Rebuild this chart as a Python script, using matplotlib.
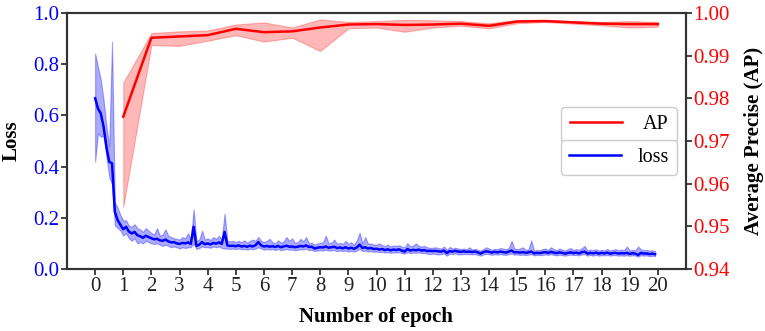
import numpy as np
import matplotlib
matplotlib.use("Agg")
import matplotlib.pyplot as plt
from matplotlib.lines import Line2D

plt.rcParams['font.family'] = ['Liberation Serif', 'DejaVu Serif']

# ---------------- data ----------------
ap_epochs = list(range(1, 21))
ap_mean = [0.9757, 0.9942, 0.9945, 0.9948, 0.9963, 0.9955, 0.9957, 0.9966, 0.9973, 0.9974,
           0.9972, 0.9973, 0.9975, 0.9970, 0.9980, 0.9981, 0.9978, 0.9975, 0.9974, 0.9974]
ap_upper = [0.9837, 0.9953, 0.9957, 0.9959, 0.9973, 0.9978, 0.9966, 0.9985, 0.9979, 0.9981,
            0.9984, 0.9983, 0.9981, 0.9976, 0.9984, 0.9984, 0.9981, 0.9979, 0.9981, 0.9979]
ap_lower = [0.9546, 0.9925, 0.9923, 0.9935, 0.9948, 0.9933, 0.9942, 0.9911, 0.9964, 0.9966,
            0.9956, 0.9966, 0.9970, 0.9964, 0.9976, 0.9979, 0.9975, 0.9971, 0.9966, 0.9968]

loss_step = 0.1
loss_mean = [
    0.667, 0.627, 0.608, 0.556, 0.478, 0.419, 0.413, 0.224, 0.191, 0.172,
    0.155, 0.165, 0.146, 0.139, 0.145, 0.132, 0.128, 0.122, 0.130, 0.125,
    0.120, 0.116, 0.118, 0.112, 0.110, 0.115, 0.108, 0.104, 0.105, 0.100,
    0.098, 0.102, 0.100, 0.104, 0.098, 0.165, 0.090, 0.095, 0.105, 0.097,
    0.100, 0.096, 0.102, 0.099, 0.104, 0.098, 0.145, 0.092, 0.090, 0.091,
    0.089, 0.092, 0.088, 0.090, 0.087, 0.091, 0.088, 0.093, 0.105, 0.092,
    0.088, 0.090, 0.087, 0.089, 0.086, 0.090, 0.085, 0.088, 0.091, 0.087,
    0.088, 0.085, 0.087, 0.090, 0.088, 0.092, 0.086, 0.087, 0.080, 0.083,
    0.085, 0.084, 0.088, 0.083, 0.085, 0.087, 0.082, 0.084, 0.081, 0.085,
    0.080, 0.083, 0.079, 0.084, 0.095, 0.082, 0.085, 0.080, 0.082, 0.078,
    0.079, 0.076, 0.078, 0.074, 0.077, 0.073, 0.076, 0.074, 0.077, 0.072,
    0.068, 0.078, 0.072, 0.075, 0.073, 0.076, 0.072, 0.074, 0.070, 0.071,
    0.070, 0.071, 0.069, 0.068, 0.072, 0.062, 0.070, 0.068, 0.071, 0.068,
    0.067, 0.069, 0.067, 0.068, 0.066, 0.068, 0.065, 0.060, 0.066, 0.069,
    0.067, 0.064, 0.067, 0.065, 0.068, 0.066, 0.064, 0.068, 0.072, 0.065,
    0.066, 0.064, 0.066, 0.063, 0.065, 0.068, 0.061, 0.063, 0.062, 0.064,
    0.066, 0.063, 0.067, 0.064, 0.062, 0.065, 0.063, 0.060, 0.063, 0.065,
    0.062, 0.064, 0.061, 0.066, 0.068, 0.060, 0.063, 0.061, 0.064, 0.060,
    0.063, 0.061, 0.064, 0.060, 0.062, 0.063, 0.060, 0.062, 0.061, 0.063,
    0.059, 0.062, 0.060, 0.055, 0.063, 0.060, 0.061, 0.058, 0.060, 0.058,
]
loss_upper = [
    0.842, 0.790, 0.740, 0.660, 0.560, 0.480, 0.888, 0.260, 0.240, 0.210,
    0.190, 0.190, 0.170, 0.165, 0.175, 0.160, 0.155, 0.145, 0.160, 0.150,
    0.140, 0.135, 0.160, 0.130, 0.135, 0.155, 0.130, 0.125, 0.120, 0.118,
    0.115, 0.125, 0.120, 0.140, 0.115, 0.233, 0.110, 0.115, 0.150, 0.115,
    0.120, 0.113, 0.125, 0.118, 0.130, 0.115, 0.217, 0.110, 0.108, 0.110,
    0.105, 0.110, 0.105, 0.112, 0.103, 0.110, 0.115, 0.110, 0.125, 0.110,
    0.105, 0.110, 0.118, 0.105, 0.100, 0.112, 0.103, 0.108, 0.125, 0.110,
    0.120, 0.102, 0.105, 0.118, 0.108, 0.125, 0.100, 0.103, 0.095, 0.100,
    0.102, 0.105, 0.130, 0.100, 0.103, 0.115, 0.098, 0.102, 0.098, 0.110,
    0.098, 0.105, 0.095, 0.112, 0.142, 0.100, 0.125, 0.098, 0.100, 0.095,
    0.095, 0.100, 0.093, 0.090, 0.095, 0.088, 0.092, 0.090, 0.093, 0.087,
    0.085, 0.101, 0.088, 0.092, 0.100, 0.090, 0.088, 0.090, 0.085, 0.083,
    0.083, 0.085, 0.082, 0.080, 0.088, 0.075, 0.086, 0.080, 0.083, 0.080,
    0.078, 0.080, 0.077, 0.085, 0.076, 0.079, 0.075, 0.072, 0.078, 0.085,
    0.080, 0.075, 0.079, 0.078, 0.082, 0.080, 0.077, 0.082, 0.110, 0.080,
    0.078, 0.080, 0.085, 0.075, 0.077, 0.112, 0.072, 0.075, 0.073, 0.078,
    0.080, 0.075, 0.085, 0.078, 0.074, 0.080, 0.076, 0.072, 0.078, 0.082,
    0.074, 0.078, 0.075, 0.082, 0.090, 0.072, 0.076, 0.074, 0.077, 0.072,
    0.075, 0.073, 0.078, 0.072, 0.075, 0.078, 0.073, 0.076, 0.074, 0.088,
    0.072, 0.075, 0.073, 0.088, 0.077, 0.073, 0.075, 0.072, 0.073, 0.070,
]
loss_lower = [
    0.419, 0.530, 0.517, 0.520, 0.440, 0.360, 0.330, 0.170, 0.160, 0.150,
    0.130, 0.140, 0.120, 0.110, 0.120, 0.100, 0.105, 0.100, 0.110, 0.105,
    0.100, 0.098, 0.100, 0.095, 0.090, 0.095, 0.090, 0.085, 0.088, 0.085,
    0.080, 0.085, 0.082, 0.085, 0.085, 0.100, 0.078, 0.082, 0.088, 0.085,
    0.085, 0.083, 0.088, 0.085, 0.088, 0.082, 0.080, 0.080, 0.078, 0.080,
    0.078, 0.080, 0.077, 0.078, 0.076, 0.079, 0.077, 0.080, 0.085, 0.080,
    0.075, 0.078, 0.076, 0.078, 0.074, 0.078, 0.073, 0.076, 0.078, 0.075,
    0.076, 0.073, 0.075, 0.077, 0.076, 0.079, 0.074, 0.075, 0.070, 0.072,
    0.073, 0.072, 0.075, 0.072, 0.073, 0.074, 0.070, 0.072, 0.070, 0.072,
    0.068, 0.071, 0.068, 0.072, 0.078, 0.070, 0.072, 0.068, 0.070, 0.067,
    0.068, 0.066, 0.067, 0.064, 0.066, 0.063, 0.065, 0.064, 0.066, 0.062,
    0.060, 0.066, 0.062, 0.064, 0.063, 0.065, 0.062, 0.063, 0.060, 0.058,
    0.060, 0.058, 0.057, 0.058, 0.061, 0.052, 0.060, 0.058, 0.061, 0.057,
    0.057, 0.059, 0.058, 0.058, 0.057, 0.058, 0.055, 0.052, 0.057, 0.059,
    0.058, 0.055, 0.058, 0.056, 0.058, 0.056, 0.055, 0.058, 0.060, 0.056,
    0.057, 0.055, 0.056, 0.054, 0.056, 0.058, 0.053, 0.055, 0.054, 0.055,
    0.057, 0.055, 0.058, 0.055, 0.053, 0.056, 0.054, 0.052, 0.055, 0.056,
    0.054, 0.055, 0.053, 0.057, 0.058, 0.052, 0.055, 0.052, 0.055, 0.052,
    0.054, 0.053, 0.055, 0.052, 0.054, 0.054, 0.052, 0.053, 0.052, 0.054,
    0.051, 0.054, 0.052, 0.048, 0.054, 0.052, 0.053, 0.050, 0.052, 0.050,
]
x_ticks = list(range(0, 21))
loss_ticks = [0.0, 0.2, 0.4, 0.6, 0.8, 1.0]
ap_ticks = [0.94, 0.95, 0.96, 0.97, 0.98, 0.99, 1.00]

# ---------------- plot ----------------
loss_x = np.arange(len(loss_mean)) * loss_step

fig = plt.figure(figsize=(7.65, 3.31), dpi=100)
ax = fig.add_axes([67 / 765, 1 - 269 / 331, (686 - 67) / 765, (269 - 13) / 331])
ax2 = ax.twinx()

ax.fill_between(loss_x, loss_lower, loss_upper, color='#0000ff', alpha=0.33, linewidth=0.8)
l_loss, = ax.plot(loss_x, loss_mean, color='#0000ff', linewidth=1.8)

ax2.fill_between(ap_epochs, ap_lower, ap_upper, color='#ff0000', alpha=0.28, linewidth=0.8)
l_ap, = ax2.plot(ap_epochs, ap_mean, color='#ff0000', linewidth=1.8)

ax.set_xlim(-1, 21)
ax.set_ylim(0, 1.0)
ax2.set_ylim(0.94, 1.00)
ax.set_xticks(x_ticks)
ax.set_yticks(loss_ticks)
ax.set_yticklabels([f"{v:.1f}" for v in loss_ticks])
ax2.set_yticks(ap_ticks)
ax2.set_yticklabels([f"{v:.2f}" for v in ap_ticks])

fs = 15
ax.tick_params(axis='x', labelsize=fs, colors='#222222', length=4, width=1.2, pad=2)
ax.tick_params(axis='y', labelsize=fs, labelcolor='#0000ff', color='#222222', length=4, width=1.2, pad=1.5)
ax2.tick_params(axis='y', labelsize=fs, labelcolor='#ff0000', color='#222222', length=4, width=1.2, pad=1.5)

for a in (ax, ax2):
    for s in a.spines.values():
        s.set_color('#333333')
        s.set_linewidth(1.5)

ax.set_xlabel('Number of epoch', fontsize=fs, fontweight='bold')
ax.set_ylabel('Loss', fontsize=fs, fontweight='bold')
ax2.set_ylabel('Average Precise (AP)', fontsize=fs, fontweight='bold')
ax.xaxis.set_label_coords(0.499, -0.15)
ax.yaxis.set_label_coords(-0.073, 0.5)
ax2.yaxis.set_label_coords(1.093, 0.5)

leg_fs = 14.5
leg1 = ax2.legend([Line2D([], [], color='#ff0000', linewidth=1.8)], ['AP'],
                  loc='upper right', bbox_to_anchor=(0.985, 0.633), borderaxespad=0,
                  fontsize=leg_fs, handlelength=2.6, handletextpad=1.05, fancybox=True,
                  framealpha=1, edgecolor='#cccccc')
ax2.add_artist(leg1)
ax2.legend([Line2D([], [], color='#0000ff', linewidth=1.8)], ['loss'],
           loc='upper right', bbox_to_anchor=(0.985, 0.504), borderaxespad=0,
           fontsize=leg_fs, handlelength=2.6, handletextpad=0.8, fancybox=True,
           framealpha=1, edgecolor='#cccccc')

fig.savefig('out.png', dpi=100)
